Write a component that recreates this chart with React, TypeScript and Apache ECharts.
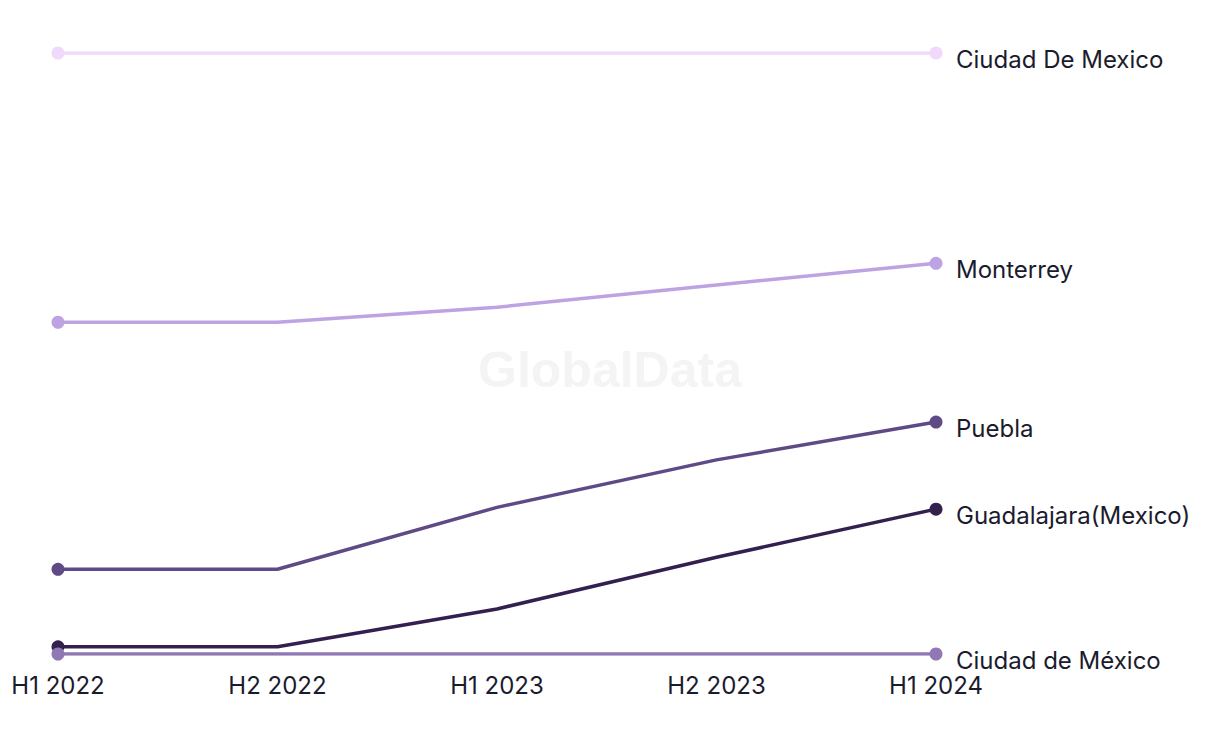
import React, { useEffect, useRef } from "react";
import * as echarts from "echarts";

const categories = ["H1 2022", "H2 2022", "H1 2023", "H2 2023", "H1 2024"];
const seriesNames = [
  "Ciudad De Mexico",
  "Monterrey",
  "Puebla",
  "Guadalajara(Mexico)",
  "Ciudad de México",
];
const ciudadDeMexicoUpper = [100, 100, 100, 100, 100];
const monterrey = [55.2, 55.2, 57.7, 61.4, 65.0];
const puebla = [14.1, 14.1, 24.4, 32.3, 38.6];
const guadalajara = [1.2, 1.2, 7.5, 16.1, 24.1];
const ciudadDeMexicoLower = [0, 0, 0, 0, 0];
const seriesValues = [ciudadDeMexicoUpper, monterrey, puebla, guadalajara, ciudadDeMexicoLower];
const seriesColors = ["#f0d9fa", "#bea3e2", "#5f4a86", "#33204f", "#8f78b4"];

const FONT = "Inter, 'Liberation Sans', sans-serif";
const TEXT = "#1b1b2e";

export default function App() {
  const ref = useRef<HTMLDivElement>(null);
  useEffect(() => {
    if (!ref.current) return;
    const chart = echarts.init(ref.current, undefined, { renderer: "svg" });
    const last = categories.length - 1;
    chart.setOption({
      animation: false,
      backgroundColor: "#ffffff",
      graphic: [
        {
          type: "text",
          left: "center",
          top: 337,
          z: 0,
          style: {
            text: "GlobalData",
            fontFamily: "'Liberation Sans', Arial, sans-serif",
            fontWeight: "bold",
            fontSize: 50,
            fill: "#f4f4f4",
          },
        },
      ],
      grid: { left: 50, right: 276, top: 45, bottom: 82, containLabel: false },
      xAxis: {
        type: "category",
        data: categories,
        boundaryGap: false,
        axisLine: { show: false },
        axisTick: { show: false },
        splitLine: { show: false },
        axisLabel: {
          color: TEXT,
          fontFamily: FONT,
          fontSize: 24,
          margin: 19,
        },
      },
      yAxis: {
        type: "value",
        min: 0,
        max: 100,
        show: false,
      },
      series: seriesNames.map((name, i) => ({
        type: "line",
        name,
        data: seriesValues[i],
        color: seriesColors[i],
        lineStyle: { width: 3.5, color: seriesColors[i] },
        itemStyle: { color: seriesColors[i] },
        symbol: "circle",
        symbolSize: (_v: any, p: any) => (p.dataIndex === 0 || p.dataIndex === last ? 13 : 0),
        showSymbol: true,
        z: 2 + i,
        endLabel: {
          show: true,
          formatter: name,
          distance: 20,
          offset: [0, 6],
          color: TEXT,
          fontFamily: FONT,
          fontSize: 24,
        },
      })),
    });
    return () => chart.dispose();
  }, []);
  return <div ref={ref} style={{ width: 1204, height: 728 }} />;
}
